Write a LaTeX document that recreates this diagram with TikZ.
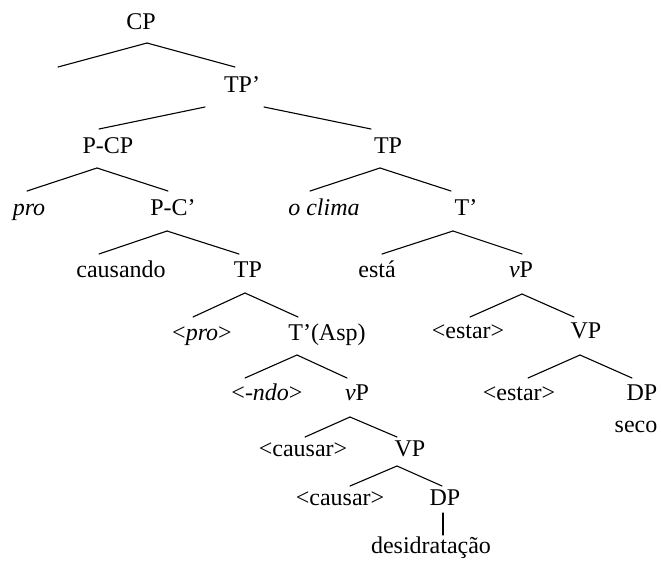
\documentclass[tikz,border=0pt]{standalone}
\usepackage{fontspec}
\setmainfont{Liberation Serif}
\usetikzlibrary{calc}
\begin{document}
\begin{tikzpicture}[x=1pt,y=-1pt,
  lab/.style={inner sep=0pt,anchor=base,font=\fontsize{24}{28}\selectfont},
  br/.style={line width=1.1pt,line cap=round}]
\useasboundingbox (0,0) rectangle (661,560);
% nodes
\node[lab] (cp) at (141,29) {CP};
\coordinate (cpL) at (58,67);
\node[lab] (tpb) at (242,92) {TP’};
\node[lab] (pcp) at (108,153) {P-CP};
\node[lab] (pro) at (29,215) {\itshape pro};
\node[lab] (pcbar) at (173,215) {P-C’};
\node[lab] (causando) at (121,277) {causando};
\node[lab] (tp2) at (248,277) {TP};
\node[lab] (pro2) at (202,340) {<\textit{pro}>};
\node[lab] (tasp) at (327,340) {T’(Asp)};
\node[lab] (ndo) at (267,400) {<\textit{-ndo}>};
\node[lab] (vp1) at (357,400) {\textit{v}P};
\node[lab] (causar1) at (303,456) {<causar>};
\node[lab] (vpA) at (410,456) {VP};
\node[lab] (causar2) at (340,505) {<causar>};
\node[lab] (dp1) at (445,505) {DP};
\node[lab] (desid) at (431,553) {desidratação};
\node[lab] (tp1) at (388,153) {TP};
\node[lab] (oclima) at (324,215) {\itshape o clima};
\node[lab] (tbar) at (466,215) {T’};
\node[lab] (esta) at (377,277) {está};
\node[lab] (vp2) at (521,277) {\textit{v}P};
\node[lab] (estar1) at (468,338) {<estar>};
\node[lab] (vpB) at (586,338) {VP};
\node[lab] (estar2) at (519,400) {<estar>};
\node[lab] (dp2) at (642,400) {DP};
\node[lab] (seco) at (636,432) {seco};
% branches
\draw[br] ($(cp.base)+(6,14)$) -- (cpL);
\draw[br] ($(cp.base)+(6,14)$) -- ($(tpb.base)+(-7,-25)$);
\draw[br] ($(tpb.base)+(-37,15)$) -- ($(pcp.base)+(-9,-24)$);
\draw[br] ($(tpb.base)+(22,15)$) -- ($(tp1.base)+(-17,-24)$);
\draw[br] ($(pcp.base)+(-11,15)$) -- ($(pro.base)+(-2,-24)$);
\draw[br] ($(pcp.base)+(-11,15)$) -- ($(pcbar.base)+(-5,-24)$);
\draw[br] ($(pcbar.base)+(-6,16)$) -- ($(causando.base)+(-22,-23)$);
\draw[br] ($(pcbar.base)+(-6,16)$) -- ($(tp2.base)+(-9,-23)$);
\draw[br] ($(tp2.base)+(-3,16)$) -- ($(pro2.base)+(-9,-23)$);
\draw[br] ($(tp2.base)+(-3,16)$) -- ($(tasp.base)+(-29,-23)$);
\draw[br] ($(tasp.base)+(-30,15)$) -- ($(ndo.base)+(-22,-22)$);
\draw[br] ($(tasp.base)+(-30,15)$) -- ($(vp1.base)+(-10,-22)$);
\draw[br] ($(vp1.base)+(-7,17)$) -- ($(causar1.base)+(2,-19)$);
\draw[br] ($(vp1.base)+(-7,17)$) -- ($(vpA.base)+(-13,-19)$);
\draw[br] ($(vpA.base)+(-13,10)$) -- ($(causar2.base)+(10,-19)$);
\draw[br] ($(vpA.base)+(-13,10)$) -- ($(dp1.base)+(-3,-19)$);
\draw[br] ($(dp1.base)+(-2,8)$) -- ($(desid.base)+(12,-18)$);
\draw[br] ($(tp1.base)+(-8,15)$) -- ($(oclima.base)+(-14,-24)$);
\draw[br] ($(tp1.base)+(-8,15)$) -- ($(tbar.base)+(-15,-24)$);
\draw[br] ($(tbar.base)+(-13,16)$) -- ($(esta.base)+(5,-23)$);
\draw[br] ($(tbar.base)+(-13,16)$) -- ($(vp2.base)+(1,-23)$);
\draw[br] ($(vp2.base)+(1,17)$) -- ($(estar1.base)+(2,-21)$);
\draw[br] ($(vp2.base)+(1,17)$) -- ($(vpB.base)+(-12,-21)$);
\draw[br] ($(vpB.base)+(-6,17)$) -- ($(estar2.base)+(9,-22)$);
\draw[br] ($(vpB.base)+(-6,17)$) -- ($(dp2.base)+(-10,-22)$);
\end{tikzpicture}
\end{document}
